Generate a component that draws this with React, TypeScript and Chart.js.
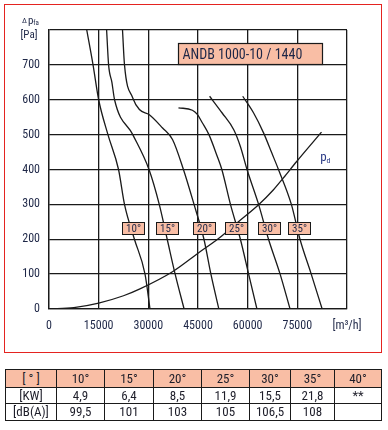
import React, { useEffect, useRef } from "react";
import { Chart, registerables } from "chart.js";

Chart.register(...registerables);

// ---------- data ----------
const xTickValues = [0, 15000, 30000, 45000, 60000, 75000, 90000];
const yTickValues = [0, 100, 200, 300, 400, 500, 600, 700, 800];
const xUnitLabel = "[m³/h]";
const yUnitLabel = "[Pa]";
const chartTitle = "ANDB 1000-10 / 1440";

const curveNames = ["10°", "15°", "20°", "25°", "30°", "35°"];

const c10X = [11400, 13300, 15000, 17800, 21000, 22800, 25800, 29000, 30500];
const c10Y = [800, 700, 600, 500, 400, 300, 200, 100, 0];

const c15X = [17400, 18000, 19000, 19800, 25300, 30200, 33300, 35700, 38100, 40800];
const c15Y = [800, 700, 650, 600, 500, 400, 300, 200, 100, 0];

const c20X = [22200, 22800, 25300, 27300, 30300, 34300, 37300, 40600, 43800, 46800, 48900, 51300];
const c20Y = [800, 700, 605, 572, 557, 519, 486, 400, 300, 200, 100, 0];

const c25X = [39100, 43300, 44800, 46300, 48300, 50800, 52200, 54800, 57800, 60300, 62800];
const c25Y = [577, 570, 558, 534, 500, 438, 400, 300, 200, 100, 0];

const c30X = [48500, 52300, 55800, 57800, 59800, 63300, 66300, 69800, 72800];
const c30Y = [610, 562, 514, 466, 400, 300, 200, 100, 0];

const c35X = [58500, 61800, 64800, 67300, 69300, 73200, 75800, 79200, 82500];
const c35Y = [610, 562, 505, 447, 400, 300, 200, 100, 0];

const pdX = [0, 7500, 15000, 22500, 27300, 37300, 45000, 51300, 57300, 63300, 67800, 70800, 74800, 82300];
const pdY = [0, 4, 17, 38, 57, 107, 160, 203, 251, 299, 342, 376, 423, 507];

const curveLabelX = [25250, 35550, 46700, 56450, 66350, 75550];
const curveLabelY = 233;
const pdLabelPos = [81900, 434];

const tableHeader = ["[ ° ]", "10°", "15°", "20°", "25°", "30°", "35°", "40°"];
const kwRow = ["[KW]", "4,9", "6,4", "8,5", "11,9", "15,5", "21,8", "**"];
const dbRow = ["[dB(A)]", "99,5", "101", "103", "105", "106,5", "108", ""];

// ---------- style ----------
const ink = "#1a1a1a";
const textInk = "#1e2747";
const salmon = "#F9BEA5";
const red = "#E42320";
const fontFamily = '"Liberation Sans Narrow", "Roboto Condensed", "Liberation Sans", Roboto, sans-serif';

const toPts = (xs: number[], ys: number[]) => xs.map((v, i) => ({ x: v, y: ys[i] }));

const overlayPlugin = {
  id: "overlay",
  afterDatasetsDraw(chart: any) {
    const { ctx, chartArea, scales } = chart;
    const xs = scales.x;
    const ys = scales.y;
    ctx.save();

    // curve labels
    ctx.font = `11px ${fontFamily}`;
    ctx.textAlign = "center";
    ctx.textBaseline = "middle";
    curveNames.forEach((t, i) => {
      const cx = xs.getPixelForValue(curveLabelX[i]);
      const cy = ys.getPixelForValue(curveLabelY);
      const w = 22;
      const h = 12;
      const l = Math.round(cx - w / 2) + 0.5;
      const tp = Math.round(cy - h / 2) + 0.5;
      ctx.fillStyle = salmon;
      ctx.fillRect(l, tp, w, h);
      ctx.strokeStyle = ink;
      ctx.lineWidth = 1;
      ctx.strokeRect(l, tp, w, h);
      ctx.fillStyle = textInk;
      ctx.fillText(t, l + w / 2, tp + h / 2 + 0.5);
    });

    // title box
    const bl = Math.round(chartArea.left + 129) + 0.5;
    const bt = Math.round(chartArea.top + 13) + 0.5;
    const bw = 144;
    const bh = 21;
    ctx.fillStyle = salmon;
    ctx.fillRect(bl, bt, bw, bh);
    ctx.strokeStyle = ink;
    ctx.lineWidth = 1.2;
    ctx.strokeRect(bl, bt, bw, bh);
    ctx.fillStyle = textInk;
    ctx.font = `14px ${fontFamily}`;
    ctx.textAlign = "left";
    ctx.fillText(chartTitle, bl + 4, bt + bh / 2 + 1);

    // pd label
    const px = xs.getPixelForValue(pdLabelPos[0]);
    const py = ys.getPixelForValue(pdLabelPos[1]);
    ctx.fillStyle = "#2b3b86";
    ctx.font = `13px ${fontFamily}`;
    ctx.textAlign = "left";
    ctx.textBaseline = "alphabetic";
    ctx.fillText("p", px, py + 3);
    const pw = ctx.measureText("p").width;
    ctx.font = `8px ${fontFamily}`;
    ctx.fillText("d", px + pw, py + 5);

    // y unit
    ctx.fillStyle = textInk;
    ctx.font = `11px ${fontFamily}`;
    ctx.textAlign = "center";
    ctx.textBaseline = "middle";
    ctx.fillText(yUnitLabel, chartArea.left - 20, chartArea.top + 5);

    // Δpfa
    ctx.textAlign = "left";
    ctx.textBaseline = "alphabetic";
    ctx.font = `8px ${fontFamily}`;
    const dx = chartArea.left - 27;
    const dy = chartArea.top - 6;
    ctx.fillText("Δ", dx, dy - 1);
    const dw = ctx.measureText("Δ").width;
    ctx.font = `11px ${fontFamily}`;
    ctx.fillText("p", dx + dw + 1, dy);
    const pw2 = ctx.measureText("p").width;
    ctx.font = `7px ${fontFamily}`;
    ctx.fillText("fa", dx + dw + 1 + pw2, dy + 1);

    ctx.restore();
  },
};

function FanChart() {
  const ref = useRef<HTMLCanvasElement | null>(null);
  useEffect(() => {
    if (!ref.current) return;
    const lineDs = (xs: number[], ys: number[]) => ({
      data: toPts(xs, ys),
      showLine: true,
      borderColor: ink,
      borderWidth: 1.3,
      pointRadius: 0,
      cubicInterpolationMode: "monotone",
      fill: false,
    });
    const chart = new Chart(ref.current, {
      type: "scatter",
      data: {
        datasets: [
          lineDs(c10X, c10Y),
          lineDs(c15X, c15Y),
          lineDs(c20X, c20Y),
          lineDs(c25X, c25Y),
          lineDs(c30X, c30Y),
          lineDs(c35X, c35Y),
          lineDs(pdX, pdY),
        ],
      },
      options: {
        responsive: false,
        animation: false,
        devicePixelRatio: 1,
        layout: { padding: { left: 0, right: 41, top: 30, bottom: 0 } },
        plugins: { legend: { display: false }, tooltip: { enabled: false } },
        scales: {
          x: {
            type: "linear",
            min: 0,
            max: 90000,
            afterBuildTicks: (s: any) => {
              s.ticks = xTickValues.map((v) => ({ value: v }));
            },
            afterFit: (s: any) => {
              s.height = 51;
            },
            ticks: {
              color: textInk,
              font: { family: fontFamily, size: 12 },
              padding: 10,
              maxRotation: 0,
              autoSkip: false,
              callback: (v: any) => (v === 90000 ? xUnitLabel : String(v)),
            },
            grid: { color: ink, lineWidth: 1.3, drawTicks: false },
            border: { display: true, color: ink, width: 1.3 },
          },
          y: {
            type: "linear",
            min: 0,
            max: 800,
            afterBuildTicks: (s: any) => {
              s.ticks = yTickValues.map((v) => ({ value: v }));
            },
            afterFit: (s: any) => {
              s.width = 49;
            },
            ticks: {
              color: textInk,
              font: { family: fontFamily, size: 12 },
              padding: 9,
              autoSkip: false,
              callback: (v: any) => (v === 800 ? "" : String(v)),
            },
            grid: { color: ink, lineWidth: 1.3, drawTicks: false },
            border: { display: true, color: ink, width: 1.3 },
          },
        },
      },
      plugins: [overlayPlugin],
    } as any);
    return () => chart.destroy();
  }, []);
  return <canvas ref={ref} width={388} height={360} style={{ position: "absolute", left: 0, top: 0, width: 388, height: 360 }} />;
}

const colWidths = [51, 48, 49, 48, 48, 41, 44, 47];
const rowHeights = [18, 16, 17];

export default function App() {
  const cellBase: React.CSSProperties = {
    border: "1px solid #1a1a1a",
    padding: 0,
    textAlign: "center",
    fontFamily,
    fontSize: 13,
    color: "#1e1e2a",
    lineHeight: "14px",
    overflow: "hidden",
    whiteSpace: "nowrap",
  };
  const rows = [tableHeader, kwRow, dbRow];
  return (
    <div style={{ position: "absolute", left: 0, top: 0, width: 388, height: 430, background: "#fff" }}>
      <FanChart />
      <div
        style={{
          position: "absolute",
          left: 4,
          top: 4,
          width: 378,
          height: 349,
          border: `1.5px solid ${red}`,
          boxSizing: "border-box",
          pointerEvents: "none",
        }}
      />
      <table
        style={{
          position: "absolute",
          left: 5,
          top: 369,
          width: 376,
          borderCollapse: "collapse",
          tableLayout: "fixed",
        }}
      >
        <colgroup>
          {colWidths.map((w, i) => (
            <col key={i} style={{ width: w }} />
          ))}
        </colgroup>
        <tbody>
          {rows.map((r, ri) => (
            <tr key={ri} style={{ height: rowHeights[ri] }}>
              {r.map((c, ci) => (
                <td key={ci} style={{ ...cellBase, background: ri === 0 ? salmon : "#fff" }}>
                  {c}
                </td>
              ))}
            </tr>
          ))}
        </tbody>
      </table>
    </div>
  );
}
